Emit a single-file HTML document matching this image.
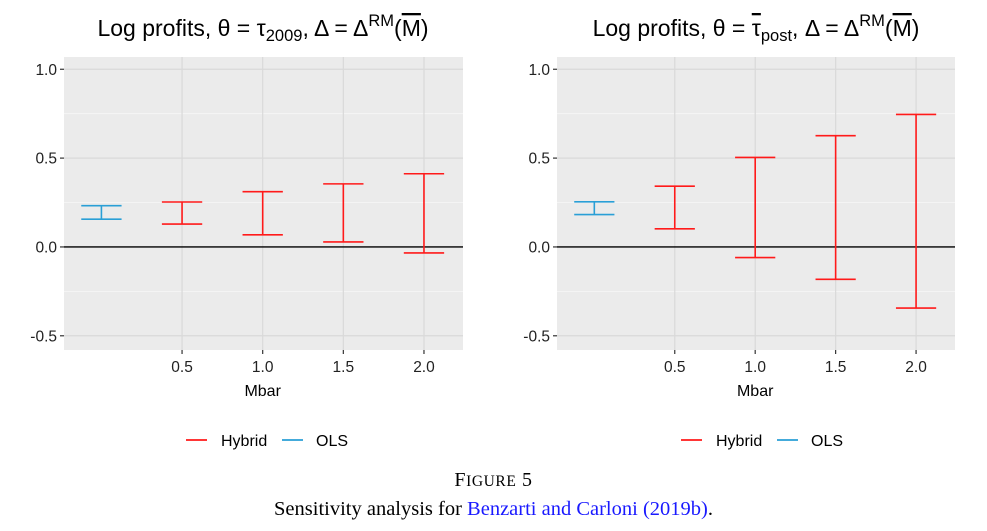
<!DOCTYPE html>
<html><head><meta charset="utf-8"><style>
body{margin:0;background:#fff;width:987px;height:531px;overflow:hidden;font-family:"Liberation Sans",sans-serif}
svg{position:absolute;left:0;top:0}
.cap{position:absolute;left:0;width:987px;text-align:center;font-family:"Liberation Serif",serif;color:#000}
</style></head><body>
<svg id="fig" width="987" height="531"></svg>
<div class="cap" style="top:469px;font-size:20px;letter-spacing:0.6px">F<span style="font-size:15.5px">IGURE</span> 5</div>
<div class="cap" style="top:498px;font-size:20.5px">Sensitivity analysis for <span style="color:#1a1aff">Benzarti and Carloni (2019b)</span>.</div>
<script>
const mbarCats=[0.5,1.0,1.5,2.0];
const leftOls=[0.156,0.232];
const leftLo=[0.129,0.068,0.028,-0.034];
const leftHi=[0.253,0.311,0.355,0.412];
const rightOls=[0.182,0.254];
const rightLo=[0.102,-0.06,-0.182,-0.344];
const rightHi=[0.342,0.504,0.626,0.746];
const yTicks=[1.0,0.5,0.0,-0.5];
const yTickLabels=["1.0","0.5","0.0","-0.5"];
const yMinor=[0.75,0.25,-0.25];
const xTickLabels=["0.5","1.0","1.5","2.0"];
const NS='http://www.w3.org/2000/svg';
const svg=document.getElementById('fig');
function mk(tag,attrs,parent){const e=document.createElementNS(NS,tag);for(const k in attrs)e.setAttribute(k,attrs[k]);(parent||svg).appendChild(e);return e;}
function panel(p){
  const g=mk('g',{});
  
  
  const x0=p.x0,x1=p.x1,y0=57,y1=350;
  const xd=[-0.232,2.242],yd=[-0.58,1.069];
  const sx=v=>x0+(v-xd[0])/(xd[1]-xd[0])*(x1-x0);
  const sy=v=>y1-(v-yd[0])/(yd[1]-yd[0])*(y1-y0);
  const bg=mk('rect',{x:x0,y:y0,width:x1-x0,height:y1-y0,fill:'#ebebeb'},g);
  
  
  yMinor.forEach(v=>mk('line',{x1:x0,x2:x1,y1:sy(v),y2:sy(v),stroke:'#f7f7f7','stroke-width':0.8},g));
  yTicks.forEach((v,i)=>{
    mk('line',{x1:x0,x2:x1,y1:sy(v),y2:sy(v),stroke:'#d9d9d9','stroke-width':1.2},g);
    mk('line',{x1:x0-4,x2:x0,y1:sy(v),y2:sy(v),stroke:'#333','stroke-width':1.2},g);
    const t=mk('text',{x:x0-7,y:sy(v)+5.5,'text-anchor':'end','font-size':15.5,fill:'#222'},g);
    t.textContent=yTickLabels[i];
    
    
  });
  mbarCats.forEach((v,i)=>{
    mk('line',{x1:sx(v),x2:sx(v),y1:y0,y2:y1,stroke:'#d9d9d9','stroke-width':1.2},g);
    mk('line',{x1:sx(v),x2:sx(v),y1:y1,y2:y1+4,stroke:'#333','stroke-width':1.2},g);
    const t=mk('text',{x:sx(v),y:y1+22,'text-anchor':'middle','font-size':15.5,fill:'#222'},g);
    t.textContent=xTickLabels[i];
    
    
  });
  const zl=mk('line',{x1:x0,x2:x1,y1:sy(0),y2:sy(0),stroke:'#000','stroke-width':1.3},g);
  
  
  function bar(x,lo,hi,col,name){
    const b=mk('g',{stroke:col,'stroke-width':1.6,fill:'none'},g);
    
    
    const hw=(sx(0.125)-sx(0));
    mk('line',{x1:sx(x),x2:sx(x),y1:sy(lo),y2:sy(hi)},b);
    mk('line',{x1:sx(x)-hw,x2:sx(x)+hw,y1:sy(lo),y2:sy(lo)},b);
    mk('line',{x1:sx(x)-hw,x2:sx(x)+hw,y1:sy(hi),y2:sy(hi)},b);
  }
  bar(0,p.ols[0],p.ols[1],'#2a9fd6','ols-errorbar');
  mbarCats.forEach((v,i)=>bar(v,p.lo[i],p.hi[i],'#ff1a1a','hybrid-errorbar-'+v));
  const xt=mk('text',{x:sx(1.0),y:396,'text-anchor':'middle','font-size':16,fill:'#000'},g);
  xt.textContent='Mbar';
  
  
  const tt=mk('text',{x:p.tx,y:36,'text-anchor':'middle','font-size':23,fill:'#000'},g);
  tt.innerHTML=p.title;
  
  
  const lg=mk('g',{},g);
  
  
  const L=p.leg;
  mk('line',{x1:L,x2:L+21,y1:440,y2:440,stroke:'#ff1a1a','stroke-width':1.8},lg);
  const h=mk('text',{x:L+35,y:446,'font-size':16,fill:'#000'},lg);h.textContent='Hybrid';
  
  
  mk('line',{x1:L+96,x2:L+117,y1:440,y2:440,stroke:'#2a9fd6','stroke-width':1.8},lg);
  const o=mk('text',{x:L+130,y:446,'font-size':16,fill:'#000'},lg);o.textContent='OLS';
  
  
}
panel({name:'left-panel',x0:64,x1:463,ols:leftOls,lo:leftLo,hi:leftHi,tx:263,leg:186,
 title:'Log profits, θ = τ<tspan font-size="16.5" dy="5">2009</tspan><tspan dy="-5">, Δ = Δ</tspan><tspan font-size="16.5" dy="-10">RM</tspan><tspan dy="10">(</tspan><tspan text-decoration="overline">M</tspan>)'});
panel({name:'right-panel',x0:557,x1:955,ols:rightOls,lo:rightLo,hi:rightHi,tx:756,leg:681,
 title:'Log profits, θ = <tspan text-decoration="overline">τ</tspan><tspan font-size="16.5" dy="5">post</tspan><tspan dy="-5">, Δ = Δ</tspan><tspan font-size="16.5" dy="-10">RM</tspan><tspan dy="10">(</tspan><tspan text-decoration="overline">M</tspan>)'});
</script>
</body></html>
